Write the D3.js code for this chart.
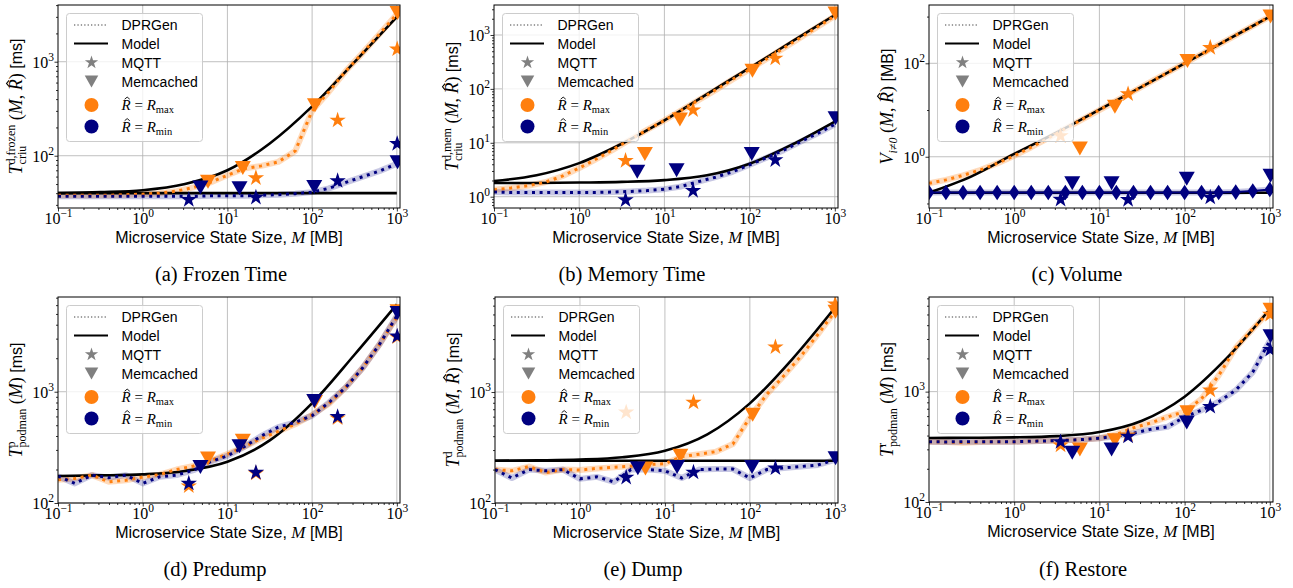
<!DOCTYPE html>
<html lang="en">
<head>
<meta charset="UTF-8">
<title>Checkpoint / restore model vs DPRGen</title>
<script src="https://cdnjs.cloudflare.com/ajax/libs/d3/7.8.5/d3.min.js"></script>
<style>
	body { margin: 0; background: #fff; }
	svg { display: block; }
	text { white-space: pre; }
</style>
</head>
<body>
<svg id="chart" width="1293" height="588"></svg>
<script>
	// ---- data ----
	// state sizes M [MB]
	const xGrid = [0.1, 0.158, 0.251, 0.398, 0.631, 1, 1.585, 2.51, 3.98, 6.31, 10, 15.8, 25.1, 39.8, 63.1, 100, 158, 251, 398, 631, 1000]
	const xModel = [0.1, 0.316, 1, 3.16, 10, 31.6, 100, 316, 1000]
	const xMqtt = [3.5, 21.7, 200, 1010]
	const xMemMin = [4.8, 13.9, 106, 1020]
	const xMemMax = [5.9, 15.2, 108, 1020]

	// (a) frozen time
	const frozenModelHi = [40, 41, 43, 50, 70, 135, 335, 990, 3000]
	const frozenModelLo = [40, 40, 40, 40, 40, 40, 40, 40, 40]
	const frozenGenMax = [38, 38, 38, 38, 38.5, 39, 40, 42, 46, 52, 62, 73, 78, 86, 112, 300, 480, 800, 1250, 2000, 3200]
	const frozenGenMin = [37, 37, 37, 37, 37, 37, 37, 37, 37, 37.5, 37.5, 37.5, 38, 38.5, 39.5, 41, 45, 52, 60, 69, 82]
	const frozenMqttMax = [null, 58, 238, 1360]
	const frozenMqttMin = [34, 36, 54, 134]
	const frozenMemMax = [53, 74, 345, 3300]
	const frozenMemMin = [46, 45, 46.5, 85]

	// (b) memory time
	const memModelHi = [1.95, 2.5, 4.2, 9.6, 26, 80, 245, 760, 2350]
	const memModelLo = [1.8, 1.8, 1.83, 1.88, 2.03, 2.5, 4.1, 9.3, 24.8]
	const memGenMax = [1.35, 1.45, 1.6, 1.85, 2.4, 3.4, 5, 7.5, 11.5, 17.5, 26, 40, 62, 95, 150, 230, 360, 570, 900, 1420, 2250]
	const memGenMin = [1.22, 1.2, 1.2, 1.2, 1.2, 1.2, 1.2, 1.22, 1.25, 1.3, 1.38, 1.55, 1.9, 2.3, 2.9, 3.9, 5.3, 7.3, 10.5, 15, 22]
	const memMqttMax = [4.65, 40.5, 369, null]
	const memMqttMin = [0.87, 1.29, 4.8, null]
	const memMemMax = [6.2, 27, 218, 2500]
	const memMemMin = [2.9, 3.1, 6.2, 28.5]

	// (c) volume
	const volModelHi = [0.17, 0.38, 1.15, 3.3, 10.2, 31.8, 100, 316, 1000]
	const volModelLo = [0.17, 0.17, 0.17, 0.17, 0.17, 0.17, 0.17, 0.17, 0.17]
	const volGenMax = [0.27, 0.32, 0.4, 0.52, 0.72, 1.05, 1.6, 2.5, 4, 6.3, 10, 15.8, 25, 40, 63, 100, 158, 250, 398, 630, 1000]
	const volGenMin = [0.172, 0.172, 0.172, 0.172, 0.172, 0.172, 0.172, 0.172, 0.172, 0.172, 0.172, 0.172, 0.172, 0.172, 0.172, 0.172, 0.172, 0.172, 0.175, 0.185, 0.2]
	const volMqttMax = [2.8, 22, 216, null]
	const volMqttMin = [0.122, 0.12, 0.135, null]
	const volMemMax = [1.5, 11.8, 112, 1000]
	const volMemMin = [0.27, 0.27, 0.34, 0.39]

	// (d) predump
	const preModel = [175, 177, 181, 194, 235, 365, 790, 2150, 6100]
	const preGenMax = [162, 166, 178, 155, 160, 171, 180, 200, 215, 240, 275, 320, 380, 440, 510, 620, 780, 1100, 1650, 2700, 4700]
	const preGenMin = [174, 150, 178, 169, 178, 150, 172, 178, 197, 235, 265, 320, 400, 480, 530, 610, 800, 1100, 1650, 2700, 4800]
	const preMqttMax = [142, 185, 580, 3100]
	const preMqttMin = [150, 188, 596, 3150]
	const preMemMax = [251, 362, 810, 5300]
	const preMemMin = [211, 324, 825, 5100]

	// (e) dump
	const dumpModelHi = [240, 242, 246, 258, 295, 415, 790, 1980, 5740]
	const dumpModelLo = [240, 240, 240, 240, 240, 240, 240, 240, 240]
	const dumpGenMax = [200, 195, 213, 188, 200, 198, 205, 210, 215, 222, 226, 262, 275, 290, 340, 590, 950, 1400, 2100, 3300, 5300]
	const dumpGenMin = [200, 168, 200, 195, 200, 165, 172, 155, 200, 200, 195, 168, 200, 202, 202, 168, 200, 207, 213, 220, 245]
	const dumpMqttMax = [657, 807, 2540, 6200]
	const dumpMqttMin = [170, 189, 206, null]
	const dumpMemMax = [205, 266, 623, 5300]
	const dumpMemMin = [206, 211, 211, 253]

	// (f) restore
	const restModel = [380, 382, 385, 395, 430, 545, 900, 2030, 5580]
	const restGenMax = [352, 350, 345, 350, 352, 352, 355, 358, 363, 368, 378, 410, 470, 520, 590, 660, 860, 1400, 2500, 3700, 5400]
	const restGenMin = [352, 350, 352, 352, 352, 352, 355, 358, 362, 368, 378, 395, 420, 455, 480, 590, 680, 810, 1030, 1500, 2900]
	const restMqttMax = [327, 404, 1030, 5000]
	const restMqttMin = [351, 393, 731, 2400]
	const restMemMax = [299, 363, 650, 5530]
	const restMemMin = [279, 299, 526, 3170]

	const captions = ["(a) Frozen Time", "(b) Memory Time", "(c) Volume", "(d) Predump", "(e) Dump", "(f) Restore"]
	const legendNames = ["DPRGen", "Model", "MQTT", "Memcached"]
	const xLabelText = "Microservice State Size, "

	// ---- styling ----
	const ORANGE = "#ff7f0e", NAVY = "#000080", GRAY = "#808080"
	const serif = "'Liberation Serif', 'Times New Roman', serif"
	const sans = "'Liberation Sans', Arial, sans-serif"
	const xDomain = [0.1, 1090]

	const mi = (t, s = 18) => ({t, s, it: true})
	const mr = (t, s = 18) => ({t, s})
	const sup = t => ({t, s: 12, dy: -7})
	const sub = (t, stack) => ({t, s: 12, dy: 4, stack})
	const sf = (t, s = 16) => ({t, s, sans: true})
	const hatR = (s = 18) => ({t: "R", s, it: true, hat: true})

	const panels = [
		{left: 58, right: 400, top: 5, bottom: 208, yDomain: [27.8, 4010], yMajor: [100, 1000],
			modelHi: frozenModelHi, modelLo: frozenModelLo, genMax: frozenGenMax, genMin: frozenGenMin,
			mqttMax: frozenMqttMax, mqttMin: frozenMqttMin, memMax: frozenMemMax, memMin: frozenMemMin,
			capX: 221, capY: 281,
			ylabel: [mi("T"), sup("d,frozen"), sub("criu", true), mr(" ("), mi("M"), mr(", "), hatR(), mr(")"), sf(" [ms]")]},
		{left: 494, right: 838, top: 5, bottom: 208, yDomain: [0.617, 3600], yMajor: [1, 10, 100, 1000],
			modelHi: memModelHi, modelLo: memModelLo, genMax: memGenMax, genMin: memGenMin,
			mqttMax: memMqttMax, mqttMin: memMqttMin, memMax: memMemMax, memMin: memMemMin,
			capX: 632, capY: 281,
			ylabel: [mi("T"), sup("d,mem"), sub("criu", true), mr(" ("), mi("M"), mr(", "), hatR(), mr(")"), sf(" [ms]")]},
		{left: 929, right: 1273, top: 5, bottom: 208, yDomain: [0.08, 1770], yMajor: [1, 100], yMinor: [0.1, 10, 1000],
			modelHi: volModelHi, modelLo: volModelLo, genMax: volGenMax, genMin: volGenMin, minDiamonds: true,
			mqttMax: volMqttMax, mqttMin: volMqttMin, memMax: volMemMax, memMin: volMemMin,
			capX: 1077, capY: 281,
			ylabel: [mi("V"), {t: "i≠0", s: 12, dy: 4, it: true}, mr(" ("), mi("M"), mr(", "), hatR(), mr(")"), sf(" [MB]")]},
		{left: 58, right: 400, top: 297, bottom: 503, yDomain: [100, 7100], yMajor: [100, 1000],
			modelHi: preModel, genMax: preGenMax, genMin: preGenMin,
			mqttMax: preMqttMax, mqttMin: preMqttMin, memMax: preMemMax, memMin: preMemMin,
			capX: 215, capY: 576,
			ylabel: [mi("T"), sup("p"), sub("podman", true), mr(" ("), mi("M"), mr(")"), sf(" [ms]")]},
		{left: 495, right: 838, top: 297, bottom: 503, yDomain: [100, 7180], yMajor: [100, 1000],
			modelHi: dumpModelHi, modelLo: dumpModelLo, genMax: dumpGenMax, genMin: dumpGenMin,
			mqttMax: dumpMqttMax, mqttMin: dumpMqttMin, memMax: dumpMemMax, memMin: dumpMemMin,
			capX: 643, capY: 576,
			ylabel: [mi("T"), sup("d"), sub("podman", true), mr(" ("), mi("M"), mr(", "), hatR(), mr(")"), sf(" [ms]")]},
		{left: 929, right: 1273, top: 297, bottom: 502, yDomain: [100, 7200], yMajor: [100, 1000],
			modelHi: restModel, genMax: restGenMax, genMin: restGenMin,
			mqttMax: restMqttMax, mqttMin: restMqttMin, memMax: restMemMax, memMin: restMemMin,
			capX: 1083, capY: 576,
			ylabel: [mi("T"), sup("r"), sub("podman", true), mr(" ("), mi("M"), mr(")"), sf(" [ms]")]}
	]

	const svg = d3.select("#chart")
	svg.append("rect").attr("width", 1293).attr("height", 588).attr("fill", "#fff")

	// lays out a row of text pieces (math-ish) starting at x=0, returns total width
	function mathRow(g, pieces) {
		let x = 0, stackX = 0
		for (const p of pieces) {
			const x0 = p.stack ? stackX : x
			if (!p.stack) stackX = x0
			const t = g.append("text").attr("x", x0).attr("y", p.dy || 0)
				.attr("font-family", p.sans ? sans : serif)
				.attr("font-size", p.s)
				.attr("font-style", p.it ? "italic" : "normal")
				.text(p.t)
			const w = t.node().getComputedTextLength()
			if (p.hat) {
				// circumflex drawn as a small chevron above the letter
				const cx = x0 + w * 0.62, top = (p.dy || 0) - p.s * 0.72
				g.append("path")
					.attr("d", `M${cx - p.s * 0.17},${top}L${cx},${top - p.s * 0.14}L${cx + p.s * 0.17},${top}`)
					.attr("fill", "none").attr("stroke", "#000").attr("stroke-width", p.s * 0.06)
			}
			x = p.stack ? Math.max(x, x0 + w) : x0 + w
		}
		return x
	}

	function minorTicks(domain) {
		const out = []
		for (let e = Math.floor(Math.log10(domain[0])); e <= Math.ceil(Math.log10(domain[1])); e++) {
			for (let m = 2; m <= 9; m++) {
				const v = m * Math.pow(10, e)
				if (v >= domain[0] && v <= domain[1]) out.push(v)
			}
		}
		return out
	}

	function powLabel(sel, d) {
		const e = Math.round(Math.log10(d))
		sel.text(null)
		sel.append("tspan").text("10")
		sel.append("tspan").attr("dy", -7).attr("font-size", 11.5).text(e < 0 ? "−" + (-e) : String(e))
	}

	const triDown = (w, h) => `M${-w / 2},${-h / 2}L${w / 2},${-h / 2}L0,${h / 2}Z`
	const star = r => d3.symbol(d3.symbolStar, r * r / 0.8908130915292852)()
	const circle = r => d3.symbol(d3.symbolCircle, Math.PI * r * r)()
	const thinDiamond = (w, h) => `M0,${-h}L${w},0L0,${h}L${-w},0Z`

	function drawPanel(p, idx) {
		const x = d3.scaleLog().domain(xDomain).range([p.left, p.right])
		const y = d3.scaleLog().domain(p.yDomain).range([p.bottom, p.top])
		const g = svg.append("g")
		const xMajor = [0.1, 1, 10, 100, 1000]

		// grid
		g.append("g").selectAll("line").data(xMajor.slice(1)).join("line")
			.attr("x1", d => x(d)).attr("x2", d => x(d)).attr("y1", p.top).attr("y2", p.bottom)
			.attr("stroke", "#b0b0b0").attr("stroke-width", 0.8)
		g.append("g").selectAll("line").data(p.yMajor).join("line")
			.attr("y1", d => y(d)).attr("y2", d => y(d)).attr("x1", p.left).attr("x2", p.right)
			.attr("stroke", "#b0b0b0").attr("stroke-width", 0.8)

		const clipId = "clip" + idx
		svg.append("clipPath").attr("id", clipId).append("rect")
			.attr("x", p.left).attr("y", p.top).attr("width", p.right - p.left).attr("height", p.bottom - p.top)
		const plot = g.append("g").attr("clip-path", `url(#${clipId})`)

		const genLine = d3.line().x((d, i) => x(xGrid[i])).y(d => y(d))
		const modelLine = d3.line().curve(d3.curveMonotoneX).x((d, i) => x(xModel[i])).y(d => y(d))

		// shaded bands of DPRGen
		plot.append("path").attr("d", genLine(p.genMax)).attr("fill", "none")
			.attr("stroke", ORANGE).attr("stroke-opacity", 0.28).attr("stroke-width", 6).attr("stroke-linejoin", "round")
		plot.append("path").attr("d", genLine(p.genMin)).attr("fill", "none")
			.attr("stroke", NAVY).attr("stroke-opacity", 0.22).attr("stroke-width", 6).attr("stroke-linejoin", "round")

		// model lines
		for (const m of [p.modelLo, p.modelHi]) {
			if (!m) continue
			plot.append("path").attr("d", modelLine(m)).attr("fill", "none")
				.attr("stroke", "#000").attr("stroke-width", 2.6)
		}

		// DPRGen dotted lines
		plot.append("path").attr("d", genLine(p.genMax)).attr("fill", "none")
			.attr("stroke", ORANGE).attr("stroke-width", 3).attr("stroke-dasharray", "3 4.6")
		if (p.minDiamonds) {
			plot.append("path").attr("d", genLine(p.genMin)).attr("fill", "none")
				.attr("stroke", NAVY).attr("stroke-width", 2)
			plot.append("g").selectAll("path").data(p.genMin).join("path")
				.attr("transform", (d, i) => `translate(${x(xGrid[i])},${y(d)})`)
				.attr("d", thinDiamond(5.2, 7.8)).attr("fill", NAVY)
		} else {
			plot.append("path").attr("d", genLine(p.genMin)).attr("fill", "none")
				.attr("stroke", NAVY).attr("stroke-width", 3).attr("stroke-dasharray", "3 4.6")
		}

		// measured points
		const pts = (xs, vs) => xs.map((xv, i) => [xv, vs[i]]).filter(d => d[1] != null)
		const marks = [
			[pts(xMemMax, p.memMax), triDown(16, 14), ORANGE],
			[pts(xMqtt, p.mqttMax), star(8.6), ORANGE],
			[pts(xMemMin, p.memMin), triDown(16, 14), NAVY],
			[pts(xMqtt, p.mqttMin), star(8.6), NAVY]
		]
		for (const [data, shape, color] of marks) {
			plot.append("g").selectAll("path").data(data).join("path")
				.attr("transform", d => `translate(${x(d[0])},${y(d[1])})`)
				.attr("d", shape).attr("fill", color)
		}

		// frame
		g.append("rect").attr("x", p.left).attr("y", p.top)
			.attr("width", p.right - p.left).attr("height", p.bottom - p.top)
			.attr("fill", "none").attr("stroke", "#000").attr("stroke-width", 1)

		// x axis
		const xa = g.append("g").attr("transform", `translate(0,${p.bottom})`)
			.call(d3.axisBottom(x).tickValues(xMajor).tickSize(3.5).tickFormat(() => ""))
		xa.append("g").call(d3.axisBottom(x).tickValues(minorTicks(xDomain)).tickSize(2).tickFormat(() => ""))
		xa.selectAll(".domain").remove()
		xa.selectAll(".tick line").attr("stroke-width", 0.8)
		xa.selectAll(".tick text").filter(d => xMajor.includes(d))
			.attr("y", 16).attr("dy", 0).attr("font-family", serif).attr("font-size", 16)
			.each(function (d) { powLabel(d3.select(this), d) })

		// y axis
		const ya = g.append("g").attr("transform", `translate(${p.left},0)`)
			.call(d3.axisLeft(y).tickValues(p.yMajor).tickSize(3.5).tickFormat(() => ""))
		ya.append("g").call(d3.axisLeft(y).tickValues(p.yMinor || minorTicks(p.yDomain)).tickSize(2).tickFormat(() => ""))
		ya.selectAll(".domain").remove()
		ya.selectAll(".tick line").attr("stroke-width", 0.8)
		ya.selectAll(".tick text").filter(d => p.yMajor.includes(d))
			.attr("x", -4).attr("dy", 5.3).attr("font-family", serif).attr("font-size", 16)
			.each(function (d) { powLabel(d3.select(this), d) })

		// x label
		const xl = g.append("g")
		const xw = mathRow(xl, [sf(xLabelText), mi("M", 17), sf(" [MB]")])
		xl.attr("transform", `translate(${(p.left + p.right) / 2 - xw / 2},${p.bottom + 35})`)

		// y label
		const yl = g.append("g").attr("transform", `translate(${p.left - 36},${(p.top + p.bottom) / 2}) rotate(-90)`)
		const yin = yl.append("g")
		const yw = mathRow(yin, p.ylabel)
		yin.attr("transform", `translate(${-yw / 2},0)`)

		// caption
		g.append("text").attr("x", p.capX).attr("y", p.capY).attr("text-anchor", "middle")
			.attr("font-family", serif).attr("font-size", 20.5).text(captions[idx])

		// legend
		const lg = g.append("g").attr("transform", `translate(${p.left + 8.5},${p.top + 8.5})`)
		lg.append("rect").attr("width", 136).attr("height", 128).attr("rx", 3)
			.attr("fill", "#fff").attr("fill-opacity", 0.8).attr("stroke", "#cccccc").attr("stroke-width", 1)
		const rowsY = [11.5, 30, 49, 68, 91.5, 113]
		lg.append("line").attr("x1", 7.5).attr("x2", 41.5).attr("y1", rowsY[0]).attr("y2", rowsY[0])
			.attr("stroke", GRAY).attr("stroke-width", 1.3).attr("stroke-dasharray", "1.3 2.1")
		lg.append("line").attr("x1", 7.5).attr("x2", 41.5).attr("y1", rowsY[1]).attr("y2", rowsY[1])
			.attr("stroke", "#000").attr("stroke-width", 2.2)
		lg.append("path").attr("transform", `translate(25,${rowsY[2]})`).attr("d", star(7)).attr("fill", GRAY)
		lg.append("path").attr("transform", `translate(25,${rowsY[3]})`).attr("d", triDown(13.5, 12)).attr("fill", GRAY)
		lg.append("path").attr("transform", `translate(25,${rowsY[4]})`).attr("d", circle(7)).attr("fill", ORANGE)
		lg.append("path").attr("transform", `translate(25,${rowsY[5]})`).attr("d", circle(7)).attr("fill", NAVY)
		legendNames.forEach((name, i) => {
			lg.append("text").attr("x", 55).attr("y", rowsY[i] + 5).attr("font-family", sans)
				.attr("font-size", 14).text(name)
		})
		const r1 = lg.append("g").attr("transform", `translate(55,${rowsY[4] + 5})`)
		mathRow(r1, [hatR(15), mr(" = ", 15), mi("R", 15), {t: "max", s: 10.5, dy: 3}])
		const r2 = lg.append("g").attr("transform", `translate(55,${rowsY[5] + 5})`)
		mathRow(r2, [hatR(15), mr(" = ", 15), mi("R", 15), {t: "min", s: 10.5, dy: 3}])
	}

	panels.forEach(drawPanel)
</script>
</body>
</html>
